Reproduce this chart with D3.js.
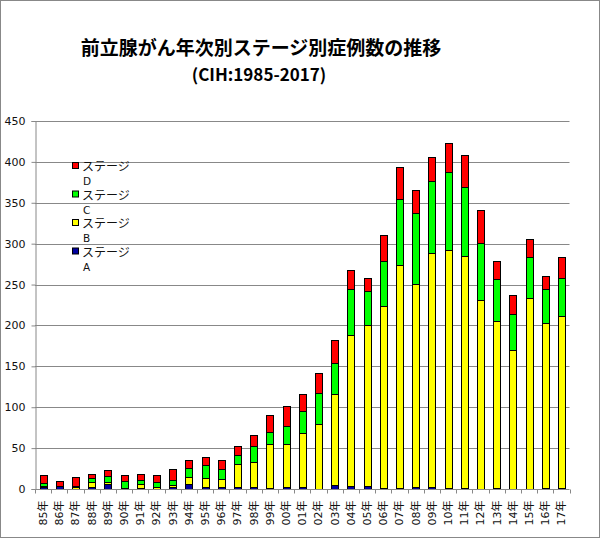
<!DOCTYPE html>
<html><head><meta charset="utf-8">
<script src="https://cdn.jsdelivr.net/npm/d3@7"></script>
<style>body{margin:0;background:#fff}svg{display:block}</style>
</head><body>
<svg id="c" width="600" height="538"></svg>
<script>
const years = ["85年","86年","87年","88年","89年","90年","91年","92年","93年","94年","95年","96年","97年","98年","99年","00年","01年","02年","03年","04年","05年","06年","07年","08年","09年","10年","11年","12年","13年","14年","15年","16年","17年"];
const stageA = [3,4,0,3,6,1,1,0,3,6,3,2,3,3,1,2,2,0,5,4,4,1,1,3,3,1,1,0,1,0,0,1,1];
const stageB = [1,0,3,5,3,0,5,3,2,9,11,10,27,30,54,53,67,80,111,184,197,223,273,248,285,291,284,231,205,170,234,202,210];
const stageC = [3,0,1,6,7,9,5,5,6,11,15,12,11,19,15,22,26,37,38,57,41,55,81,87,89,96,84,70,51,44,50,41,47];
const stageD = [10,6,11,4,7,7,7,9,13,9,10,12,12,14,20,25,21,25,28,23,16,31,39,28,29,35,39,40,22,23,22,17,26];
const seriesNames = ["ステージA","ステージB","ステージC","ステージD"];
const seriesColors = ["#0000a0","#ffff00","#00ff00","#ff0000"];
const yTicks = [0,50,100,150,200,250,300,350,400,450];
const title = "前立腺がん年次別ステージ別症例数の推移";
const subtitle = "(CIH:1985-2017)";

const svg = d3.select("#c");
svg.append("rect").attr("x",0.5).attr("y",0.5).attr("width",599).attr("height",537)
  .attr("fill","#fff").attr("stroke","#888");

const x = d3.scaleBand().domain(years).range([35,569.5]).paddingInner(0.57).paddingOuter(0.285);
const xb = d3.scaleBand().domain(years).range([35,569.5]);
const y = d3.scaleLinear().domain([0,450]).range([489,121]);

// gridlines
svg.append("g").selectAll("line").data(yTicks.filter(d=>d>0)).join("line")
  .attr("x1",35).attr("x2",569.5).attr("y1",d=>Math.round(y(d))+0.5).attr("y2",d=>Math.round(y(d))+0.5)
  .attr("stroke","#888").attr("stroke-width",1);

// y axis
const ya = d3.axisLeft(y).tickValues(yTicks).tickSize(4).tickPadding(6);
const gy = svg.append("g").attr("transform","translate(35.5,0)").call(ya);
gy.selectAll("path,line").attr("stroke","#888");
gy.selectAll("text").attr("font-family","DejaVu Sans, sans-serif").attr("font-size",11).attr("fill","#111");

// stacked bars
const data = years.map((yr,i)=>({year:yr,A:stageA[i],B:stageB[i],C:stageC[i],D:stageD[i]}));
const stack = d3.stack().keys(["A","B","C","D"])(data);
svg.append("g").selectAll("g").data(stack).join("g")
  .attr("fill",(d,i)=>seriesColors[i])
  .selectAll("rect").data(d=>d.filter(s=>s[1]-s[0]>0)).join("rect")
  .attr("x",d=>Math.round(x(d.data.year))+0.5)
  .attr("width",Math.round(x.bandwidth()))
  .attr("y",d=>Math.round(y(d[1]))+0.5)
  .attr("height",d=>Math.max(0,Math.round(y(d[0]))-Math.round(y(d[1]))))
  .attr("stroke","#000").attr("stroke-width",1);

// x axis
const gx = svg.append("g").attr("transform","translate(0,489.5)");
gx.append("line").attr("x1",35).attr("x2",569.5).attr("stroke","#888");
gx.selectAll("line.t").data(years.concat(["end"])).join("line").attr("class","t")
  .attr("x1",(d,i)=>Math.round(35+i*xb.bandwidth())+0.5).attr("x2",(d,i)=>Math.round(35+i*xb.bandwidth())+0.5)
  .attr("y1",0).attr("y2",4).attr("stroke","#888");
gx.selectAll("text").data(years).join("text")
  .attr("transform",d=>`translate(${xb(d)+xb.bandwidth()/2+4},11) rotate(-90)`)
  .attr("text-anchor","end")
  .attr("font-family","DejaVu Sans, 'Noto Sans CJK JP', sans-serif").attr("font-size",11).attr("fill","#111")
  .text(d=>d);

// legend
const leg = svg.append("g");
const order = [3,2,1,0];
order.forEach((si,k)=>{
  const cy = 166 + k*28.5;
  leg.append("rect").attr("x",72.5).attr("y",cy-3.5).attr("width",6).attr("height",6)
    .attr("fill",seriesColors[si]).attr("stroke","#000");
  const t = leg.append("text").attr("font-family","'Noto Sans CJK JP', sans-serif").attr("font-size",12).attr("fill","#111");
  t.append("tspan").attr("x",82).attr("y",cy+5).text(seriesNames[si].slice(0,4));
  t.append("tspan").attr("x",83).attr("y",cy+19).attr("font-family","DejaVu Sans, sans-serif").attr("font-size",10.5).text(seriesNames[si].slice(4));
});

// titles
svg.append("text").attr("x",261).attr("y",55).attr("text-anchor","middle")
  .attr("font-family","'Noto Sans CJK JP', sans-serif").attr("font-weight","bold").attr("font-size",19).attr("fill","#000").text(title);
svg.append("text").attr("x",259).attr("y",81).attr("text-anchor","middle")
  .attr("font-family","'Noto Sans CJK JP', sans-serif").attr("font-weight","bold").attr("font-size",17).attr("fill","#000").text(subtitle);
</script>
</body></html>
